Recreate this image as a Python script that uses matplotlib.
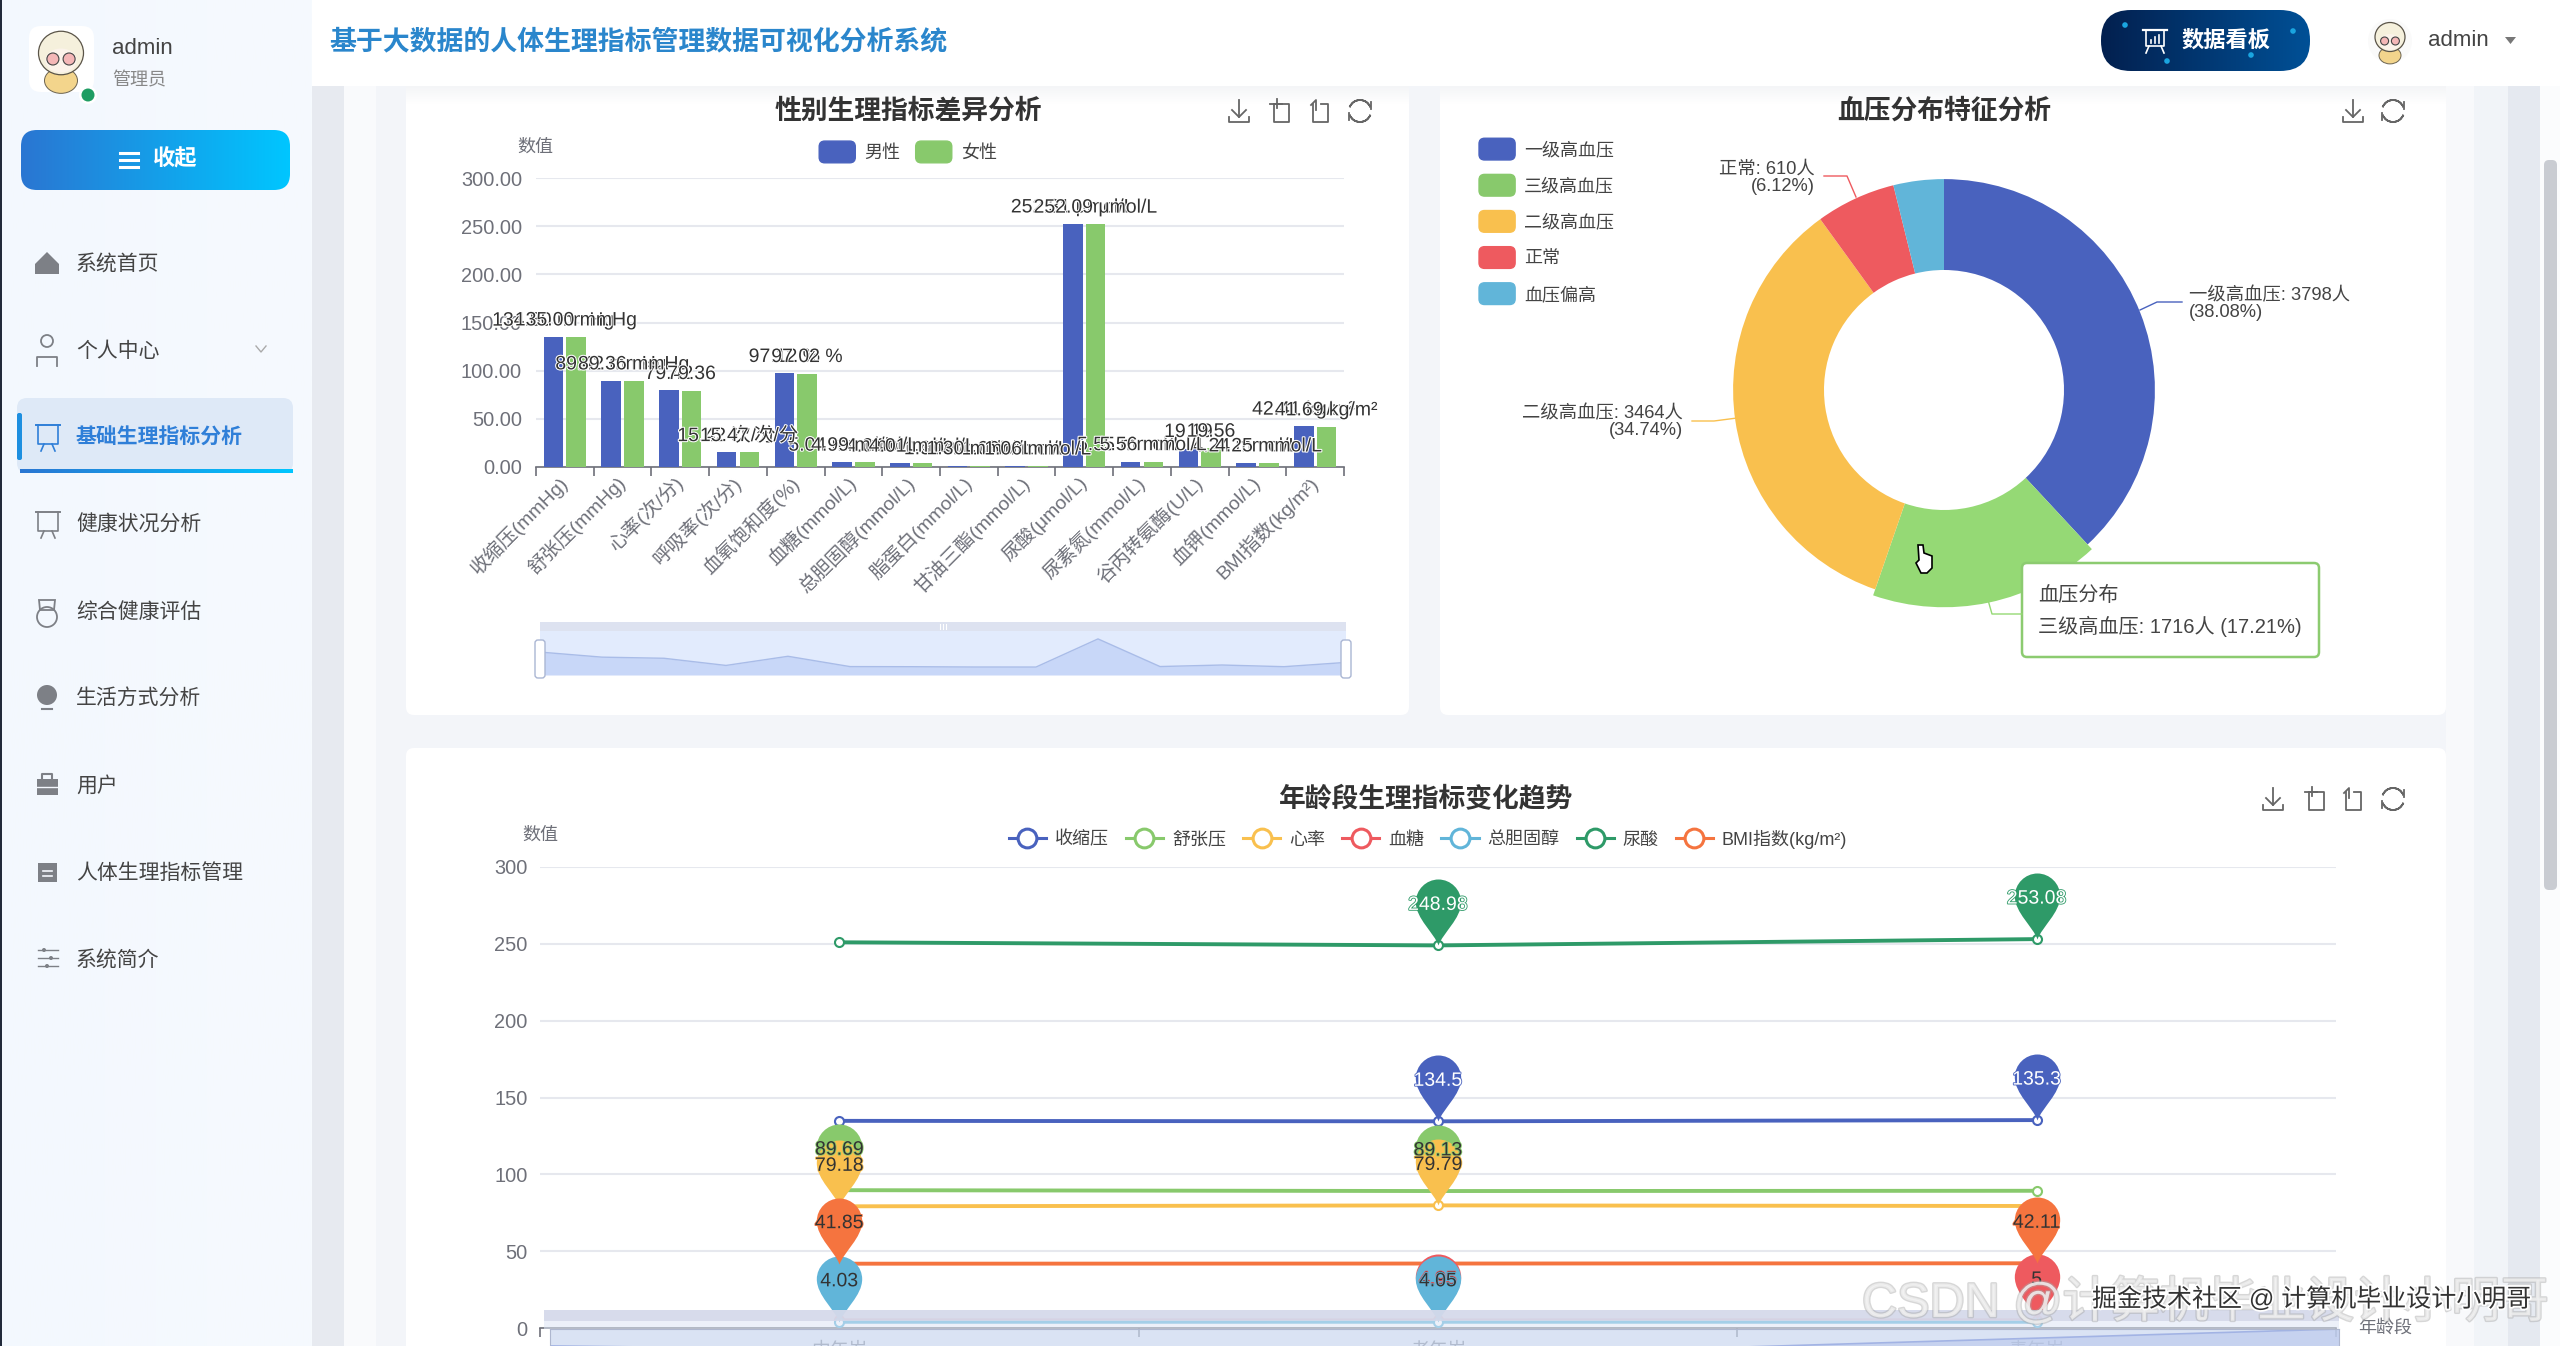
import numpy as np
import matplotlib
matplotlib.use('Agg')
from matplotlib import pyplot as plt
from matplotlib.lines import Line2D
from matplotlib.patches import Patch, Rectangle, FancyBboxPatch, Circle, Polygon, Wedge, Ellipse
from matplotlib.legend_handler import HandlerPatch
from matplotlib.path import Path
from matplotlib.transforms import ScaledTranslation
import matplotlib.patheffects as pe

plt.rcParams['font.family'] = ['Liberation Sans', 'Noto Sans CJK SC', 'DejaVu Sans']

W, H = 2560, 1346

# bar chart data
bar_categories = ['收缩压(mmHg)', '舒张压(mmHg)', '心率(次/分)', '呼吸率(次/分)', '血氧饱和度(%)', '血糖(mmol/L)',
                  '总胆固醇(mmol/L)', '脂蛋白(mmol/L)', '甘油三酯(mmol/L)', '尿酸(μmol/L)', '尿素氮(mmol/L)',
                  '谷丙转氨酶(U/L)', '血钾(mmol/L)', 'BMI指数(kg/m²)']
bar_units = ['mmHg', 'mmHg', '', '次/分', '%', 'mmol/L', 'mmol/L', 'mmol/L', 'mmol/L', 'μmol/L', 'mmol/L', '', 'mmol/L', 'kg/m²']
male_values = [134.80, 89.42, 79.42, 15.42, 97.12, 5.04, 4.04, 1.30, 1.06, 252.31, 5.55, 19.19, 4.24, 42.41]
female_values = [135.00, 89.36, 79.36, 15.47, 97.02, 4.99, 4.01, 1.30, 1.06, 252.09, 5.56, 19.56, 4.25, 41.69]
bar_yticks = [0, 50, 100, 150, 200, 250, 300]

# donut data
bp_names = ['一级高血压', '三级高血压', '二级高血压', '正常', '血压偏高']
bp_counts = [3798, 1716, 3464, 610, 385]
bp_percent = [38.08, 17.21, 34.74, 6.12, 3.85]

# line chart data
age_groups = ['中年岁', '老年岁', '青年岁']
line_names = ['收缩压', '舒张压', '心率', '血糖', '总胆固醇', '尿酸', 'BMI指数(kg/m²)']
systolic = [134.8, 134.5, 135.3]
diastolic = [89.69, 89.13, 89.30]
heart_rate = [79.18, 79.79, 79.40]
glucose = [4.98, 4.95, 5.0]
cholesterol = [4.03, 4.05, 4.04]
uric_acid = [251.0, 248.98, 253.08]
bmi = [41.85, 41.95, 42.11]
line_yticks = [0, 50, 100, 150, 200, 250, 300]

menu_items = ['系统首页', '个人中心', '基础生理指标分析', '健康状况分析', '综合健康评估', '生活方式分析', '用户', '人体生理指标管理', '系统简介']

BLUE, GREEN, YELLOW, RED, SKY, DGREEN, ORANGE = '#4962BE', '#88C96C', '#F9C04E', '#EE5A5F', '#61B5D9', '#2E9A68', '#F5743F'
TXT = '#444444'
AXC = '#6E7079'
GRID = '#E6E8EE'


def axes_px(x0, y0, x1, y1, **kw):
    return fig.add_axes([x0 / W, 1 - y1 / H, (x1 - x0) / W, (y1 - y0) / H], **kw)


def pct(px):
    return px * 0.72


def box(ax, x0, y0, x1, y1, color, r=0, **kw):
    if r:
        p = FancyBboxPatch((x0 + r, y0 + r), x1 - x0 - 2 * r, y1 - y0 - 2 * r,
                           boxstyle='round,pad=%f' % r, fc=color, lw=kw.pop('lw', 0), **kw)
    else:
        p = Rectangle((x0, y0), x1 - x0, y1 - y0, fc=color, lw=kw.pop('lw', 0), **kw)
    ax.add_patch(p)
    return p


def grad_box(ax, x0, y0, x1, y1, c0, c1, r=0, zorder=2, vertical=False):
    c0 = np.array(matplotlib.colors.to_rgb(c0))
    c1 = np.array(matplotlib.colors.to_rgb(c1))
    t = np.linspace(0, 1, 128)
    img = c0 + (c1 - c0) * t[:, None]
    img = img[:, None, :] if vertical else img[None, :, :]
    im = ax.imshow(img, extent=(x0, x1, y1, y0), aspect='auto', zorder=zorder)
    if r:
        clip = box(ax, x0, y0, x1, y1, 'none', r=r)
        im.set_clip_path(clip)
    ax.set_xlim(0, W)
    ax.set_ylim(H, 0)


def tool_icons(ax, xs, y, names):
    c = '#666666'
    lw = 1.3
    for x, n in zip(xs, names):
        if n == 'save':
            ax.plot([x, x], [y - 11, y + 6], c=c, lw=lw, zorder=4)
            ax.plot([x - 7, x, x + 7], [y - 1, y + 6, y - 1], c=c, lw=lw, zorder=4)
            ax.plot([x - 10, x - 10, x + 10, x + 10], [y + 6, y + 11, y + 11, y + 6], c=c, lw=lw, zorder=4)
        elif n == 'zoom':
            ax.plot([x - 7, x - 7, x + 8, x + 8, x - 7], [y - 7, y + 11, y + 11, y - 7, y - 7], c=c, lw=lw, zorder=4)
            ax.plot([x - 4, x - 4], [y - 12, y - 3], c=c, lw=lw, zorder=4)
            ax.plot([x - 11, x + 1], [y - 7, y - 7], c=c, lw=lw, zorder=4)
        elif n == 'back':
            ax.plot([x - 7, x - 7, x + 8, x + 8, x + 1], [y - 7, y + 11, y + 11, y - 7, y - 7], c=c, lw=lw, zorder=4)
            ax.plot([x - 9, x - 4, x - 4], [y - 6, y - 11, y - 1], c=c, lw=lw, zorder=4)
        else:
            ax.add_patch(Wedge((x, y), 11, 200, 340, width=0, ec=c, fc='none', lw=lw, zorder=4))
            ax.add_patch(Wedge((x, y), 11, 20, 160, width=0, ec=c, fc='none', lw=lw, zorder=4))
            ax.plot([x + 11, x + 11], [y - 9, y - 2], c=c, lw=lw, zorder=4)
            ax.plot([x - 11, x - 11], [y + 2, y + 9], c=c, lw=lw, zorder=4)


def avatar(ax, cx, cy, r):
    z = 6
    ax.add_patch(Ellipse((cx, cy + r * 0.72), r * 1.1, r * 0.85, fc='#F3D58C', ec='#6b6350', lw=0.7, zorder=z))
    ax.add_patch(Ellipse((cx, cy - r * 0.2), r * 1.5, r * 1.45, fc='#F5F0DC', ec='#5a5448', lw=0.9, zorder=z))
    ax.add_patch(Ellipse((cx, cy + r * 0.05), r * 1.05, r * 0.8, fc='#FBF3EA', lw=0, zorder=z))
    ax.add_patch(Circle((cx - r * 0.27, cy), r * 0.2, fc='#F4B7B7', ec='#444444', lw=0.8, zorder=z))
    ax.add_patch(Circle((cx + r * 0.27, cy), r * 0.2, fc='#F4B7B7', ec='#444444', lw=0.8, zorder=z))


def rounded_handle(legend, orig_handle, xdescent, ydescent, width, height, fontsize):
    r = 4
    return FancyBboxPatch((-xdescent + r, -ydescent + r - 2), width - 2 * r, height + 4 - 2 * r,
                          boxstyle='round,pad=%f' % r, lw=0)


fig = plt.figure(figsize=(W / 100, H / 100), dpi=100, facecolor='white')

# page background, cards, sidebar
ui = axes_px(0, 0, W, H, zorder=0)
ui.set_xlim(0, W)
ui.set_ylim(H, 0)
ui.axis('off')

box(ui, 312, 0, W, H, '#F3F5F9')
box(ui, 312, 86, 344, H, '#E7EAF0')
box(ui, 344, 86, 376, H, '#F9FAFC')
box(ui, 376, 86, 406, H, '#F3F5F9')
box(ui, 2446, 86, 2474, H, '#F8F9FB')
box(ui, 2474, 86, 2508, H, '#F1F4F8')
box(ui, 2508, 86, 2540, H, '#E5E9F0')
box(ui, 2540, 86, W, H, '#FBFCFD')
box(ui, 2544, 160, 2557, 890, '#C9CCD2', r=5)
box(ui, 406, 60, 1409, 715, 'white', r=8)
box(ui, 1440, 60, 2446, 715, 'white', r=8)
box(ui, 406, 748, 2446, 1400, 'white', r=8)
grad_box(ui, 406, 86, 1409, 104, '#F4F5F7', '#FFFFFF', vertical=True)
grad_box(ui, 1440, 86, 2446, 104, '#F4F5F7', '#FFFFFF', vertical=True)

# header
box(ui, 312, 0, W, 86, 'white', zorder=3)
ui.text(329, 42, '基于大数据的人体生理指标管理数据可视化分析系统', fontsize=19.4, fontweight='bold', color='#2A86CC',
        va='center', zorder=4)
grad_box(ui, 2101, 10, 2310, 71, '#03204F', '#005096', r=30, zorder=4)
for dx, dy in [(2125, 25), (2167, 61), (2251, 55), (2293, 31)]:
    ui.add_patch(Circle((dx, dy), 2.8, fc='#1AA5E0', zorder=5))
ui.text(2226, 41, '数据看板', fontsize=16, fontweight='bold', color='white', ha='center', va='center', zorder=5)
ui.plot([2143, 2167], [30, 30], c='white', lw=1.6, zorder=5)
ui.plot([2146, 2146, 2164, 2164], [30, 46, 46, 30], c='white', lw=1.2, zorder=5)
ui.plot([2149, 2146], [46, 53], c='white', lw=1.2, zorder=5)
ui.plot([2161, 2164], [46, 53], c='white', lw=1.2, zorder=5)
for bx, bt in [(2151, 40), (2155, 37), (2159, 35)]:
    ui.plot([bx, bx], [43, bt], c='white', lw=1.2, zorder=5)
ui.add_patch(Circle((2390, 41), 22, fc='#FAFAFA', zorder=4))
avatar(ui, 2390, 41, 20)
ui.text(2428, 41, 'admin', fontsize=16, color=TXT, va='center', zorder=5)
ui.add_patch(Polygon([[2505, 37], [2516, 37], [2510.5, 44]], fc='#777777', zorder=5))

# sidebar
grad_box(ui, 0, 0, 312, H, '#F3F8FE', '#F6FAFE', zorder=2)
box(ui, 0, 0, 1.5, H, '#222A3A', zorder=3)
box(ui, 29, 26, 94, 92, 'white', r=12, zorder=3)
avatar(ui, 61, 59, 30)
ui.add_patch(Circle((88, 95), 9, fc='white', zorder=7))
ui.add_patch(Circle((88, 95), 6.5, fc='#1F9D63', zorder=8))
ui.text(112, 49, 'admin', fontsize=16, color=TXT, va='center', zorder=4)
ui.text(112, 81, '管理员', fontsize=13, color='#888888', va='center', zorder=4)
grad_box(ui, 21, 130, 290, 190, '#2A76D2', '#00C6FF', r=16, zorder=3)
ui.text(175, 160, '收起', fontsize=16, fontweight='bold', color='white', ha='center', va='center', zorder=4)
for ly in [153, 160, 167]:
    ui.plot([120, 138], [ly, ly], c='white', lw=2.2, zorder=4)

box(ui, 17, 398, 293, 473, '#DEE9F7', r=10, zorder=3)
grad_box(ui, 20, 469, 293, 473, '#2A76D2', '#00C6FF', zorder=4)
box(ui, 17, 413, 22, 460, '#1D8FE0', r=2, zorder=4)

menu_y = [263, 350, 437, 524, 611, 698, 785, 872, 959]
for name, my in zip(menu_items, menu_y):
    active = name == '基础生理指标分析'
    ui.text(76, my + 1, name, fontsize=15, color='#2F7FD8' if active else TXT, va='center',
            fontweight='bold' if active else 'normal', zorder=5)

ic = '#7D8086'
ui.add_patch(Polygon([[47, 252], [59, 264], [59, 274], [35, 274], [35, 264]], fc=ic, zorder=4))
ui.add_patch(Circle((47, 341), 6, fc='none', ec=ic, lw=1.3, zorder=4))
ui.plot([37, 37, 57, 57], [366, 357, 357, 366], c=ic, lw=1.3, zorder=4)
for by, bc in [(437, '#2F7FD8'), (524, ic)]:
    ui.plot([36, 60], [by - 12, by - 12], c=bc, lw=1.4, zorder=5)
    ui.plot([38, 38, 58, 58], [by - 12, by + 7, by + 7, by - 12], c=bc, lw=1.2, zorder=5)
    ui.plot([44, 41], [by + 7, by + 14], c=bc, lw=1.2, zorder=5)
    ui.plot([52, 55], [by + 7, by + 14], c=bc, lw=1.2, zorder=5)
ui.add_patch(Circle((47, 617), 10, fc='none', ec=ic, lw=1.3, zorder=4))
ui.add_patch(Polygon([[39, 600], [55, 600], [54, 610], [40, 610]], fc='none', ec=ic, lw=1.3, zorder=4))
ui.add_patch(Circle((47, 695), 10, fc=ic, zorder=4))
ui.plot([42, 52], [709, 709], c=ic, lw=1.5, zorder=4)
box(ui, 37, 779, 58, 795, ic, zorder=4)
ui.plot([42, 42, 52, 52], [779, 774, 774, 779], c=ic, lw=1.5, zorder=4)
ui.plot([37, 58], [787, 787], c='#F4F8FE', lw=1, zorder=5)
box(ui, 38, 863, 57, 882, ic, zorder=4)
ui.plot([43, 52], [871, 871], c='#F4F8FE', lw=1.2, zorder=5)
ui.plot([43, 52], [876, 876], c='#F4F8FE', lw=1.2, zorder=5)
for sy, sx in [(950, 44), (958, 51), (966, 47)]:
    ui.plot([38, 58], [sy, sy], c=ic, lw=1, zorder=4)
    ui.add_patch(Circle((sx, sy), 2, fc=ic, zorder=4))
ui.plot([256, 261, 266], [346, 352, 346], c='#AAAAAA', lw=1, zorder=4)

# titles and tool icons
ui.text(908, 112, '性别生理指标差异分析', fontsize=19.3, fontweight='bold', color='#333333', ha='center', va='center', zorder=4)
ui.text(1944, 112, '血压分布特征分析', fontsize=19.3, fontweight='bold', color='#333333', ha='center', va='center', zorder=4)
ui.text(1426, 800, '年龄段生理指标变化趋势', fontsize=19.3, fontweight='bold', color='#333333', ha='center', va='center', zorder=4)
tool_icons(ui, [1239, 1281, 1320, 1360], 111, ['save', 'zoom', 'back', 'reset'])
tool_icons(ui, [2353, 2393], 111, ['save', 'reset'])
tool_icons(ui, [2273, 2316, 2353, 2393], 799, ['save', 'zoom', 'back', 'reset'])
ui.set_xlim(0, W)
ui.set_ylim(H, 0)

# bar chart
ax1 = axes_px(536, 178, 1344, 467, zorder=2)
ax1.patch.set_alpha(0)
xpos = np.arange(len(bar_categories))
bars_m = ax1.bar(xpos - 0.196, male_values, 0.34, color=BLUE, zorder=3, label='男性')
bars_f = ax1.bar(xpos + 0.196, female_values, 0.34, color=GREEN, zorder=3, label='女性')
ax1.set_xlim(-0.5, len(bar_categories) - 0.5)
ax1.set_ylim(0, 300)
ax1.set_yticks(bar_yticks)
ax1.set_yticklabels(['%.2f' % v for v in bar_yticks], fontsize=14.4, color=AXC)
ax1.grid(axis='y', color=GRID, lw=1.5, zorder=0)
ax1.set_axisbelow(True)
ax1.tick_params(axis='y', length=0, pad=10)
ax1.set_xticks(np.arange(len(bar_categories) + 1) - 0.5)
ax1.set_xticklabels([])
ax1.tick_params(axis='x', which='major', length=pct(9), color=AXC, width=1.2)
ax1.set_xticks(xpos, minor=True)
ax1.set_xticklabels(bar_categories, minor=True, rotation=45, ha='right', va='top', rotation_mode='anchor',
                    fontsize=14, color=AXC)
ax1.tick_params(axis='x', which='minor', length=0, pad=4)
for lab in ax1.get_xticklabels(minor=True):
    lab.set_transform(lab.get_transform() + ScaledTranslation(-0.07, 0, fig.dpi_scale_trans))
for s in ['top', 'left', 'right']:
    ax1.spines[s].set_visible(False)
ax1.spines['bottom'].set_color(AXC)
ax1.spines['bottom'].set_linewidth(1.2)
for vals, xoff in [(male_values, -0.196), (female_values, 0.196)]:
    for i, v in enumerate(vals):
        lab = ('%.2f %s' % (v, bar_units[i])).strip()
        ax1.annotate(lab, (i + xoff, v), xytext=(0, pct(16)), textcoords='offset points', ha='center', va='center',
                     fontsize=14, color='#333333', zorder=6, annotation_clip=False,
                     path_effects=[pe.withStroke(linewidth=1.5, foreground='white')])
ui.text(535, 147, '数值', fontsize=13, color=AXC, ha='center', va='center')
ax1.legend(handles=[Patch(color=BLUE, label='男性'), Patch(color=GREEN, label='女性')],
           handler_map={Patch: HandlerPatch(patch_func=rounded_handle)}, ncols=2, frameon=False,
           loc='center', bbox_to_anchor=(908 / W, 1 - 153 / H), bbox_transform=fig.transFigure,
           fontsize=13, handlelength=2.0, handleheight=1.0, handletextpad=0.5, columnspacing=0.85,
           borderpad=0, labelcolor=TXT)

# overview slider of the bar chart
box(ui, 540, 622, 1346, 631, '#DDE2F0', zorder=1)
ax1s = axes_px(540, 631, 1346, 675, zorder=2)
ax1s.set_facecolor('#E2EBFD')
ax1s.fill_between(xpos, male_values, -70, color='#C8D7F8', lw=0)
ax1s.plot(xpos, male_values, color='#A9BCE8', lw=1)
ax1s.set_xlim(0, len(xpos) - 1)
ax1s.set_ylim(-70, 323)
ax1s.set_xticks([])
ax1s.set_yticks([])
for s in ax1s.spines.values():
    s.set_visible(False)

# donut chart
ax2 = axes_px(1712, 158, 2176, 622, zorder=2)
wedges, _ = ax2.pie(bp_counts, colors=[BLUE, '#95D975', YELLOW, RED, SKY], startangle=90, counterclock=False, radius=1,
                    wedgeprops={'width': 0.431, 'linewidth': 0})
wedges[1].set_radius(1.03)
wedges[1].set_width(0.461)
ax2.set_xlim(-1.1, 1.1)
ax2.set_ylim(-1.1, 1.1)
ax2.legend(handles=[Patch(color=c, label=n) for c, n in zip([BLUE, GREEN, YELLOW, RED, SKY], bp_names)],
           handler_map={Patch: HandlerPatch(patch_func=rounded_handle)}, frameon=False,
           loc='upper left', bbox_to_anchor=(1470 / W, 1 - 132 / H), bbox_transform=fig.transFigure,
           fontsize=13, handlelength=2.0, handleheight=1.0, handletextpad=0.5, labelspacing=0.99,
           borderpad=0, labelcolor=TXT)
lab_fs = 13.2
ui.text(2189, 304, '%s: %d人\n(%.2f%%)' % (bp_names[0], bp_counts[0], bp_percent[0]), fontsize=lab_fs,
        color=TXT, va='center', ha='left', linespacing=1.0, zorder=4)
ui.text(1815, 178, '%s: %d人\n(%.2f%%)' % (bp_names[3], bp_counts[3], bp_percent[3]), fontsize=lab_fs,
        color=TXT, va='center', ha='right', multialignment='right', linespacing=1.0, zorder=4)
ui.text(1683, 422, '%s: %d人\n(%.2f%%)' % (bp_names[2], bp_counts[2], bp_percent[2]), fontsize=lab_fs,
        color=TXT, va='center', ha='right', multialignment='right', linespacing=1.0, zorder=4)
ui.plot([2140, 2157, 2182], [310, 302, 302], c=BLUE, lw=1, zorder=4)
ui.plot([1824, 1847, 1856], [176, 176, 197], c=RED, lw=1, zorder=4)
ui.plot([1692, 1714, 1737], [421, 421, 418], c=YELLOW, lw=1, zorder=4)

# line chart
ax3 = axes_px(540, 867, 2336, 1328, zorder=2)
ax3.patch.set_alpha(0)
xline = np.arange(len(age_groups))
line_series = [systolic, diastolic, heart_rate, glucose, cholesterol, uric_acid, bmi]
line_colors = [BLUE, GREEN, YELLOW, RED, SKY, DGREEN, ORANGE]
pin_text = ['white', '#333333', '#333333', '#333333', '#333333', 'white', '#333333']
pin_verts = [(0, 0), (-4, 12), (-22, 26), (-22, 42), (-22, 54), (-12, 64), (0, 64), (12, 64), (22, 54), (22, 42),
             (22, 26), (4, 12), (0, 0)]
pin_codes = [Path.MOVETO] + [Path.CURVE4] * 12
pin = Path(pin_verts, pin_codes)
handles = []
for i, (vals, name, col) in enumerate(zip(line_series, line_names, line_colors)):
    ax3.plot(xline, vals, color=col, lw=2.8, marker='o', ms=6.5, mfc='white', mec=col, mew=1.5, zorder=3 + i * 0.01,
             clip_on=False)
    handles.append(Line2D([], [], color=col, lw=2.2, marker='o', ms=13.5, mfc='white', mec=col, mew=2.2, label=name))
for i, (vals, col) in enumerate(zip(line_series, line_colors)):
    for k in (int(np.argmax(vals)), int(np.argmin(vals))):
        ax3.plot([xline[k]], [vals[k]], ls='none', marker=pin, ms=pct(132), mfc=col, mew=0, zorder=5 + i, clip_on=False)
        ax3.annotate('%g' % vals[k], (xline[k], vals[k]), xytext=(0, pct(40)), textcoords='offset points', ha='center',
                     va='center', fontsize=14, color=pin_text[i], zorder=20, annotation_clip=False,
                     path_effects=[pe.withStroke(linewidth=1.2, foreground=col)])
ax3.set_xlim(-0.5, 2.5)
ax3.set_ylim(0, 300)
ax3.set_yticks(line_yticks)
ax3.set_yticklabels([str(v) for v in line_yticks], fontsize=14.4, color=AXC)
ax3.tick_params(axis='y', length=0, pad=9)
ax3.grid(axis='y', color=GRID, lw=1.5)
ax3.set_axisbelow(True)
ax3.set_xticks(np.arange(4) - 0.5)
ax3.set_xticklabels([])
ax3.tick_params(axis='x', which='major', length=pct(9), color=AXC, width=1.2)
ax3.set_xticks(xline, minor=True)
ax3.set_xticklabels(age_groups, minor=True, fontsize=13.5, color=AXC)
ax3.tick_params(axis='x', which='minor', length=0, pad=10)
for s in ['top', 'left', 'right']:
    ax3.spines[s].set_visible(False)
ax3.spines['bottom'].set_color(AXC)
ax3.spines['bottom'].set_linewidth(1.2)
ax3.legend(handles=handles, ncols=7, frameon=False, loc='center', bbox_to_anchor=(1428 / W, 1 - 839 / H),
           bbox_transform=fig.transFigure, fontsize=13, handlelength=2.05, handletextpad=0.5, columnspacing=0.95,
           borderpad=0, labelcolor=TXT)
ui.text(540, 835, '数值', fontsize=13, color=AXC, ha='center', va='center')
ui.text(2385, 1328, '年龄段', fontsize=13, color=AXC, ha='center', va='center')

# overview slider of the line chart, sits over the plot
ax3s = axes_px(550, 1329, 2339, 1375, zorder=7)
ax3s.set_facecolor((0.80, 0.85, 0.94, 0.72))
ax3s.fill_between(xline, systolic, 133.94, color='#B9C8EC', alpha=0.6, lw=0)
ax3s.plot(xline, systolic, color='#A2B3E4', lw=1.2)
ax3s.set_xlim(0, 2)
ax3s.set_ylim(133.94, 135.30)
ax3s.set_xticks([])
ax3s.set_yticks([])
for s in ax3s.spines.values():
    s.set_color('#AEB7CF')

# top layer
top = axes_px(0, 0, W, H, zorder=8)
top.set_xlim(0, W)
top.set_ylim(H, 0)
top.axis('off')
box(top, 544, 1310, 2339, 1321, '#D5D9EA', alpha=0.95)
box(top, 544, 1321, 2339, 1329, '#DDE5F5', alpha=0.55)

# slider handles of the bar chart
for hx in [540, 1346]:
    box(top, hx - 5, 640, hx + 5, 678, 'white', r=3, ec='#AAB6D3', lw=1)
for gx in [940, 943, 946]:
    top.plot([gx, gx], [624, 629], c='white', lw=0.8)

# tooltip and cursor
top.plot([1988, 1992, 2022], [600, 614, 614], c='#95D975', lw=1)
box(top, 2022, 563, 2319, 657, 'white', r=5, ec='#8CCB70', lw=1.8)
top.text(2038, 595, '血压分布', fontsize=14.5, color=TXT, va='center')
top.text(2038, 626, '三级高血压: 1716人 (17.21%)', fontsize=14.5, color=TXT, va='center')
top.add_patch(Polygon([[1918, 545], [1923, 545], [1924, 553], [1932, 556], [1932, 568], [1927, 573], [1921, 573],
                       [1916, 563], [1919, 560]], fc='white', ec='black', lw=1.2))

# watermarks
top.text(1862, 1303, 'CSDN @计算机毕业设计小明哥', fontsize=35, color='#F0F0F0', va='center', alpha=0.8,
         path_effects=[pe.withStroke(linewidth=2, foreground='#A8A8A8', alpha=0.45)])
top.text(2092, 1299, '掘金技术社区 @ 计算机毕业设计小明哥', fontsize=18, color='#333333', va='center',
         path_effects=[pe.withStroke(linewidth=2.5, foreground='white')])

fig.savefig('out.png', dpi=100)
